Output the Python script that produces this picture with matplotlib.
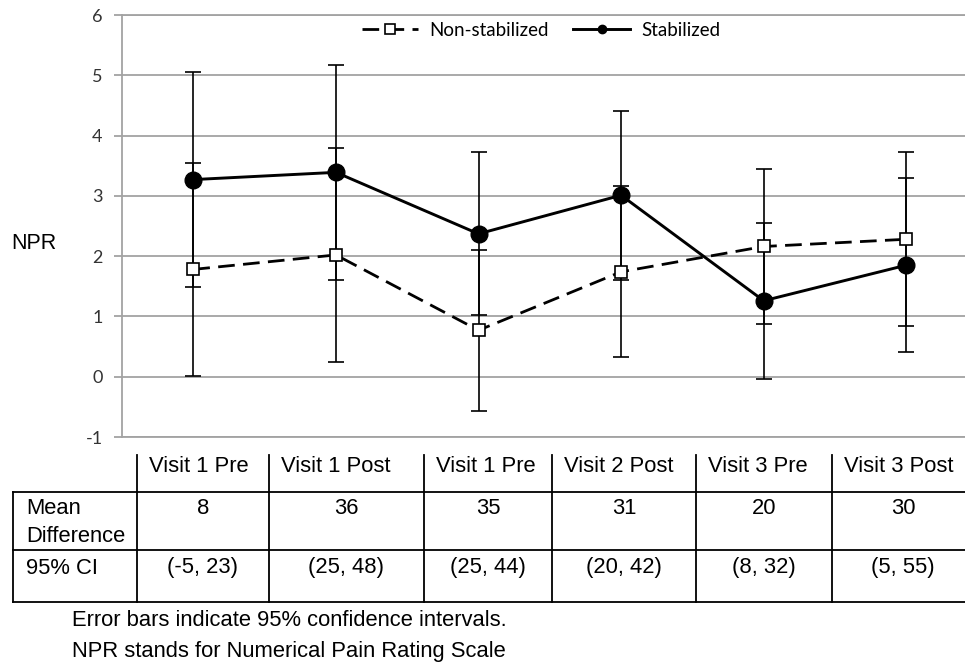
import numpy as np
import matplotlib
matplotlib.use("Agg")
import matplotlib.pyplot as plt
from matplotlib.lines import Line2D

plt.rcParams["axes.unicode_minus"] = False

# datos de la grafica
categorias = ["Visit 1 Pre", "Visit 1 Post", "Visit 1 Pre", "Visit 2 Post", "Visit 3 Pre", "Visit 3 Post"]
no_estab_media = [1.78, 2.02, 0.77, 1.74, 2.16, 2.28]
no_estab_err = [1.77, 1.78, 1.34, 1.42, 1.28, 1.44]
estab_media = [3.27, 3.39, 2.37, 3.01, 1.26, 1.85]
estab_err = [1.78, 1.78, 1.35, 1.40, 1.29, 1.44]

# tabla de abajo
dif_media = ["8", "36", "35", "31", "20", "30"]
ic_95 = ["(-5, 23)", "(25, 48)", "(25, 44)", "(20, 42)", "(8, 32)", "(5, 55)"]
notas = ["Error bars indicate 95% confidence intervals.",
         "NPR stands for Numerical Pain Rating Scale"]

W, H = 965, 666
fig = plt.figure(figsize=(W / 100, H / 100), dpi=100)

def px(x, y):
    # pixeles -> coordenadas de figura
    return x / W, 1 - y / H

# eje principal (se sale un poco por la derecha)
x0, y_top, y_bot, ancho = 122, 15, 437, 855.6
ax = fig.add_axes([x0 / W, 1 - y_bot / H, ancho / W, (y_bot - y_top) / H])

x = np.arange(len(categorias))
gris = "#a3a3a3"

ax.errorbar(x, estab_media, yerr=estab_err, fmt="none", ecolor="black",
            elinewidth=1.2, capsize=5.5, capthick=1.2, zorder=3)
ax.errorbar(x, no_estab_media, yerr=no_estab_err, fmt="none", ecolor="black",
            elinewidth=1.2, capsize=5.5, capthick=1.2, zorder=3)

ax.plot(x, no_estab_media, color="black", lw=2.0, dashes=(6, 3),
        marker="s", ms=8.5, mfc="white", mec="black", mew=1.2,
        label="Non-stabilized", zorder=4)
ax.plot(x, estab_media, color="black", lw=2.1,
        marker="o", ms=12, mfc="black", mec="black",
        label="Stabilized", zorder=5)

ax.set_xlim(-0.5, len(categorias) - 0.5)
ax.set_ylim(-1, 6)
ax.set_yticks(range(-1, 7))
ax.set_xticks([])
ax.yaxis.grid(True, color=gris, lw=1.3)
ax.set_axisbelow(True)
for s in ["left", "bottom", "top"]:
    ax.spines[s].set_color(gris)
    ax.spines[s].set_linewidth(1.3)
ax.spines["right"].set_visible(False)
ax.tick_params(axis="y", direction="out", length=6, width=1.3, color=gris,
               labelsize=13, labelcolor="#333333", pad=8)
for t in ax.get_yticklabels():
    t.set_fontfamily("Lato")

leg = fig.legend(loc="center", bbox_to_anchor=px(541, 30), ncol=2, frameon=False,
                 prop={"family": "Lato", "size": 13.5},
                 handlelength=3.0, columnspacing=1.3, handletextpad=0.6)
# marcadores chicos en la leyenda
h_no, h_si = leg.legend_handles
h_no.set_markersize(7)
h_si.set_markersize(6)

fuente = {"family": "Liberation Sans", "size": 15.8, "color": "black"}
fig.text(*px(11, 243), "NPR", ha="left", va="center",
         family="Liberation Sans", size=15.5, color="black")

# tabla
bordes = [13, 136.7, 269, 424, 552, 696, 832, 974]
y_cab, y_f1, y_f2, y_f3 = 455, 492, 550, 602
lw_t = 1.3
for yy in [y_f1, y_f2, y_f3]:
    (a, b), (c, d) = px(bordes[0], yy), px(bordes[-1], yy)
    fig.add_artist(Line2D([a, c], [b, d], color="black", lw=lw_t))
for i, xx in enumerate(bordes):
    y_ini = y_f1 if i == 0 else y_cab
    (a, b), (c, d) = px(xx, y_ini), px(xx, y_f3)
    fig.add_artist(Line2D([a, c], [b, d], color="black", lw=lw_t))

for i, cat in enumerate(categorias):
    izq, der = bordes[i + 1], bordes[i + 2]
    fig.text(*px(izq + 12, 467), cat, ha="left", va="center", **fuente)
    fig.text(*px((izq + der) / 2, 508), dif_media[i], ha="center", va="center", **fuente)
    fig.text(*px((izq + der) / 2, 568), ic_95[i], ha="center", va="center", **fuente)

fig.text(*px(26, 508), "Mean", ha="left", va="center", **fuente)
fig.text(*px(26, 536), "Difference", ha="left", va="center", **fuente)
fig.text(*px(26, 568), "95% CI", ha="left", va="center", **fuente)

fig.text(*px(72, 621), notas[0], ha="left", va="center", **fuente)
fig.text(*px(72, 652), notas[1], ha="left", va="center", **fuente)

fig.savefig("out.png", dpi=100)
